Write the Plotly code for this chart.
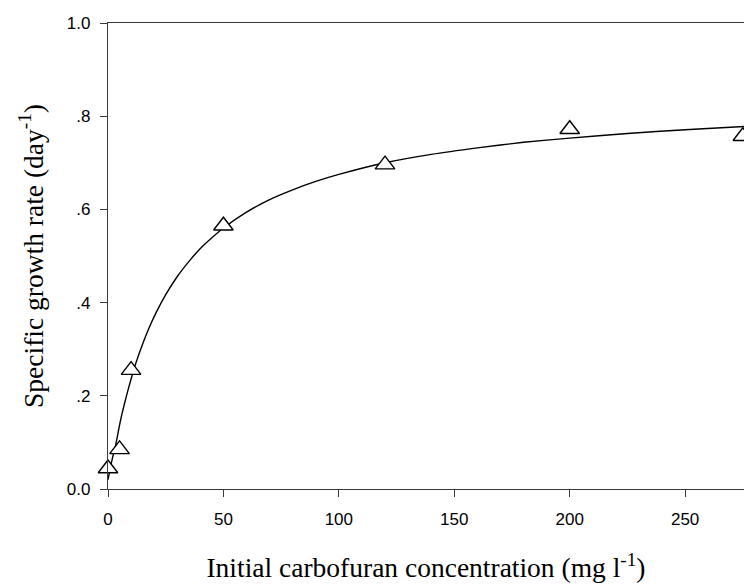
import plotly.graph_objects as go

# Measured data points
conc = [0, 5, 10, 50, 120, 200, 275]
rate = [0.044, 0.085, 0.255, 0.565, 0.696, 0.772, 0.757]

# Fitted curve
curve_x = [0, 1, 2, 3, 4, 5, 6, 8, 10, 12, 15, 18, 21, 25, 30, 35, 40, 45, 50,
           60, 70, 80, 90, 100, 120, 140, 160, 180, 200, 225, 250, 276]
curve_y = [0.020, 0.045, 0.068, 0.087, 0.111, 0.137, 0.160, 0.200, 0.236, 0.269,
           0.311, 0.348, 0.380, 0.417, 0.456, 0.488, 0.516, 0.539, 0.560,
           0.594, 0.621, 0.642, 0.660, 0.675, 0.700, 0.718, 0.732, 0.744,
           0.753, 0.763, 0.771, 0.778]

x_ticks = [0, 50, 100, 150, 200, 250]
y_ticks = [0.0, 0.2, 0.4, 0.6, 0.8, 1.0]
y_tick_text = ["0.0", ".2", ".4", ".6", ".8", "1.0"]

fig = go.Figure()
fig.add_trace(go.Scatter(
    x=curve_x, y=curve_y, mode="lines",
    line=dict(color="black", width=1.4, shape="spline", smoothing=0.5),
    showlegend=False, hoverinfo="skip"))
fig.add_trace(go.Scatter(
    x=conc, y=rate, mode="markers",
    marker=dict(symbol="triangle-up", size=17, color="white",
                line=dict(color="black", width=1.4)),
    cliponaxis=False, showlegend=False))

axis_common = dict(showgrid=False, zeroline=False, showline=True,
                   linecolor="#3a3a3a", linewidth=1.4,
                   ticks="outside", ticklen=7, tickwidth=1.2, tickcolor="#3a3a3a",
                   tickfont=dict(family="Liberation Sans, Arial", size=17, color="black"))

fig.update_xaxes(range=[0, 275.5], tickvals=x_ticks, mirror=True,
                 ticklabelstandoff=7,
                 title=dict(text="Initial carbofuran concentration (mg l<sup>-1</sup>)",
                            font=dict(family="Liberation Serif, Times New Roman", size=27.5, color="black"),
                            standoff=30),
                 **axis_common)
fig.update_yaxes(range=[0, 1], tickvals=y_ticks, ticktext=y_tick_text,
                 ticklabelstandoff=6,
                 title=dict(text="Specific growth rate (day<sup>-1</sup>)",
                            font=dict(family="Liberation Serif, Times New Roman", size=27.5, color="black"),
                            standoff=15),
                 **axis_common)

fig.update_layout(width=744, height=588, autosize=False,
                  margin=dict(l=108, r=0, t=23, b=99, pad=0),
                  plot_bgcolor="white", paper_bgcolor="white")

fig.write_html("out.html")
